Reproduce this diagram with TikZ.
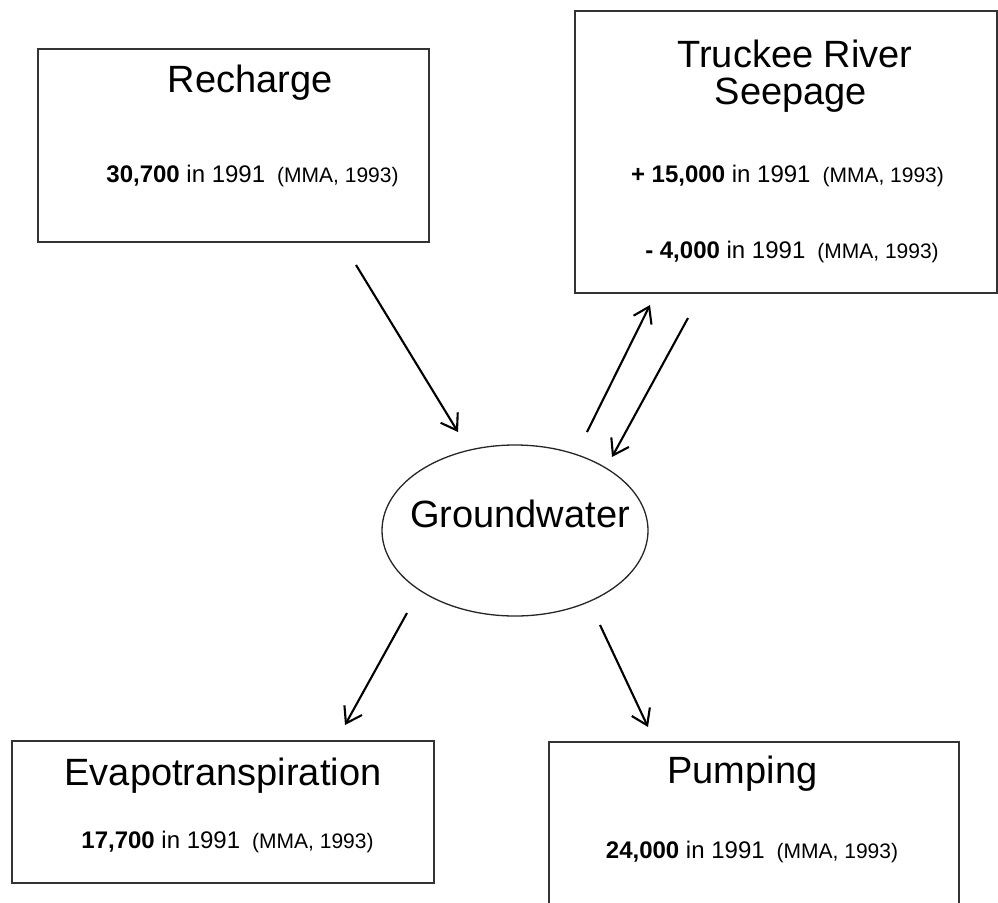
\documentclass[tikz,border=0pt]{standalone}
\usepackage{fontspec}
\setmainfont{Liberation Sans}
\usetikzlibrary{arrows.meta,shapes.geometric}
\newcommand\dataline[1]{\textbf{#1} in 1991\hspace{0.5em}{\fontsize{21}{24}\selectfont(MMA, 1993)}}
\begin{document}
\begin{tikzpicture}[x=1pt,y=-1pt,
  boxline/.style={draw=black!80,line width=2pt,inner sep=0pt,anchor=north west},
  flow/.style={line width=2.1pt,-{Straight Barb[length=15pt,width=20pt,line width=2.1pt]}},
  ttl/.style={anchor=base,inner sep=0pt,font=\fontsize{38}{44}\selectfont},
  dat/.style={anchor=base,inner sep=0pt,font=\fontsize{24}{28}\selectfont},
]
\useasboundingbox (0,0) rectangle (998,902);
\fill[white] (0,0) rectangle (998,902);
\clip (0,0) rectangle (998,902);

% boxes
\node[boxline,minimum width=391pt,minimum height=193pt] (recharge) at (37,48) {};
\node[boxline,minimum width=422pt,minimum height=282pt] (truckee) at (574,10) {};
\node[boxline,minimum width=422pt,minimum height=142pt] (evap) at (11,740) {};
\node[boxline,minimum width=410pt,minimum height=200pt] (pump) at (548,741) {};
\node[draw=black!85,line width=1.3pt,ellipse,minimum width=266pt,minimum height=171pt,inner sep=0pt] (gw) at (515,530.5) {};

% texts
\node[ttl] (rechargeT) at (250,92) {Recharge};
\node[dat] (rechargeD) at (252.5,182) {\dataline{30,700}};
\node[ttl] (truckeeT1) at (795,67) {Truckee River};
\node[ttl] (truckeeT2) at (791,104) {Seepage};
\node[dat] (truckeeD1) at (787.5,182) {\dataline{+ 15,000}};
\node[dat] (truckeeD2) at (792,258) {\dataline{- 4,000}};
\node[ttl] (gwT) at (520,527) {Groundwater};
\node[ttl] (evapT) at (223,785) {Evapotranspiration};
\node[dat] (evapD) at (227.5,848) {\dataline{17,700}};
\node[ttl] (pumpT) at (742.5,783) {Pumping};
\node[dat] (pumpD) at (752,858) {\dataline{24,000}};

% arrow end points
\coordinate (a1s) at (356,265);
\coordinate (a1e) at (458,432);
\coordinate (a2s) at (587,432);
\coordinate (a2e) at (650,305);
\coordinate (a3s) at (688,318);
\coordinate (a3e) at (612,457);
\coordinate (a4s) at (407,613);
\coordinate (a4e) at (345,725);
\coordinate (a5s) at (600,625);
\coordinate (a5e) at (648,727);

\draw[flow] (a1s) -- (a1e);
\draw[flow] (a2s) -- (a2e);
\draw[flow] (a3s) -- (a3e);
\draw[flow] (a4s) -- (a4e);
\draw[flow] (a5s) -- (a5e);
\end{tikzpicture}
\end{document}
